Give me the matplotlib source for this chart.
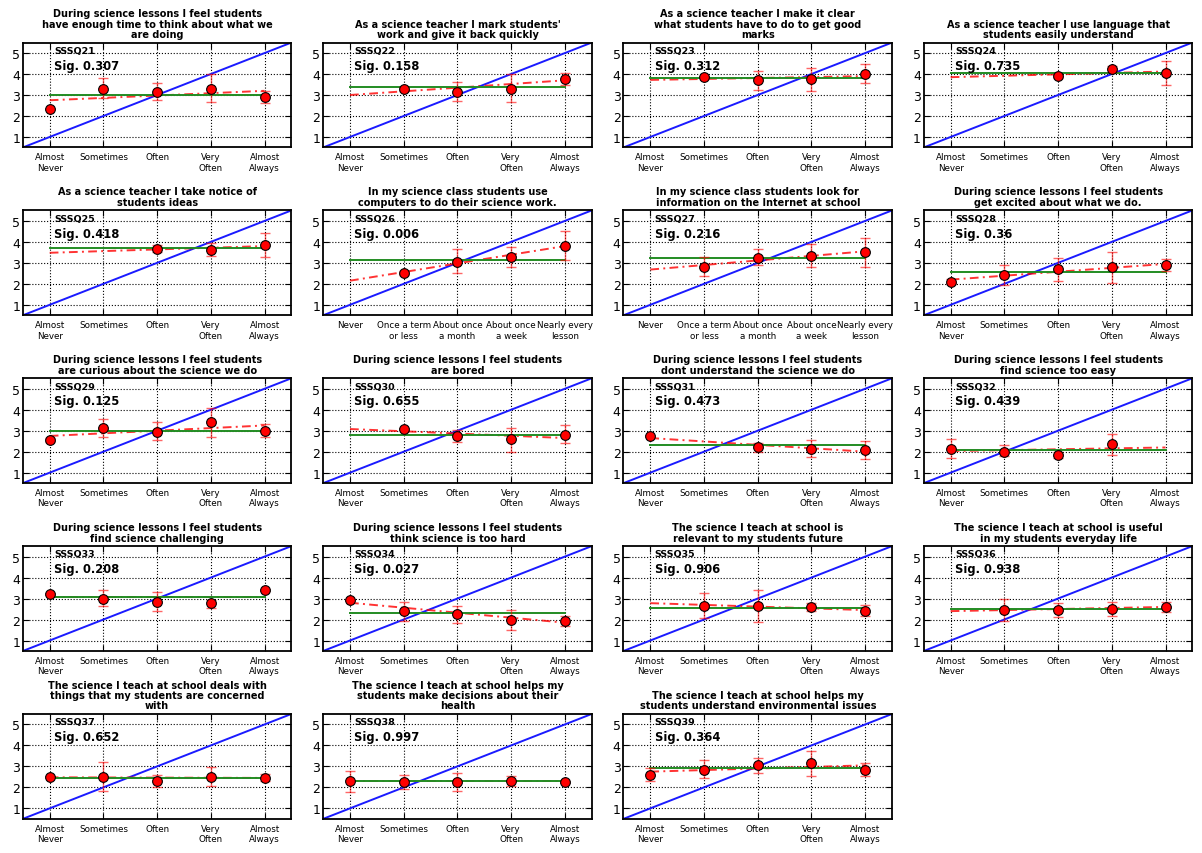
import matplotlib.pyplot as plt

codes = ["SSSQ21", "SSSQ22", "SSSQ23", "SSSQ24", "SSSQ25", "SSSQ26", "SSSQ27",
         "SSSQ28", "SSSQ29", "SSSQ30", "SSSQ31", "SSSQ32", "SSSQ33", "SSSQ34",
         "SSSQ35", "SSSQ36", "SSSQ37", "SSSQ38", "SSSQ39"]

titles = [
    "During science lessons I feel students\nhave enough time to think about what we\nare doing",
    "As a science teacher I mark students'\nwork and give it back quickly",
    "As a science teacher I make it clear\nwhat students have to do to get good\nmarks",
    "As a science teacher I use language that\nstudents easily understand",
    "As a science teacher I take notice of\nstudents ideas",
    "In my science class students use\ncomputers to do their science work.",
    "In my science class students look for\ninformation on the Internet at school",
    "During science lessons I feel students\nget excited about what we do.",
    "During science lessons I feel students\nare curious about the science we do",
    "During science lessons I feel students\nare bored",
    "During science lessons I feel students\ndont understand the science we do",
    "During science lessons I feel students\nfind science too easy",
    "During science lessons I feel students\nfind science challenging",
    "During science lessons I feel students\nthink science is too hard",
    "The science I teach at school is\nrelevant to my students future",
    "The science I teach at school is useful\nin my students everyday life",
    "The science I teach at school deals with\nthings that my students are concerned\nwith",
    "The science I teach at school helps my\nstudents make decisions about their\nhealth",
    "The science I teach at school helps my\nstudents understand environmental issues",
]

sig = [0.307, 0.158, 0.312, 0.735, 0.418, 0.006, 0.216, 0.36, 0.125, 0.655,
       0.473, 0.439, 0.208, 0.027, 0.906, 0.938, 0.652, 0.997, 0.364]

# which questions use the "how often" scale instead of the frequency scale
uses_time_scale = [False, False, False, False, False, True, True, False, False, False,
                   False, False, False, False, False, False, False, False, False]

freq_labels = ["Almost\nNever", "Sometimes", "Often", "Very\nOften", "Almost\nAlways"]
time_labels = ["Never", "Once a term\nor less", "About once\na month",
               "About once\na week", "Nearly every\nlesson"]

# group means per answer category (None = no responses)
means = [
    [2.35, 3.30, 3.15, 3.30, 2.90],
    [None, 3.30, 3.15, 3.30, 3.75],
    [None, 3.85, 3.70, 3.75, 4.00],
    [None, None, 3.90, 4.25, 4.05],
    [None, None, 3.65, 3.60, 3.85],
    [None, 2.50, 3.05, 3.30, 3.80],
    [None, 2.80, 3.25, 3.35, 3.50],
    [2.10, 2.40, 2.70, 2.80, 2.90],
    [2.55, 3.15, 2.95, 3.40, 3.00],
    [None, 3.10, 2.75, 2.60, 2.80],
    [2.75, None, 2.20, 2.15, 2.10],
    [2.15, 2.00, 1.85, 2.35, None],
    [3.20, 3.00, 2.85, 2.80, 3.40],
    [2.95, 2.40, 2.25, 2.00, 1.95],
    [None, 2.65, 2.65, 2.60, 2.40],
    [None, 2.45, 2.45, 2.50, 2.60],
    [2.50, 2.50, 2.30, 2.50, 2.45],
    [2.30, 2.25, 2.25, 2.30, 2.25],
    [2.60, 2.85, 3.05, 3.15, 2.85],
]

# lower / upper ends of the error bars
err_low = [
    [2.35, 2.85, 2.75, 2.65, 2.60],
    [None, 3.20, 2.70, 2.65, 3.50],
    [None, 3.80, 3.25, 3.20, 3.55],
    [None, None, 3.80, 4.10, 3.50],
    [None, None, 3.50, 3.35, 3.30],
    [None, 2.40, 2.50, 2.80, 3.15],
    [None, 2.35, 2.90, 2.80, 2.80],
    [2.00, 1.95, 2.15, 2.05, 2.60],
    [2.45, 2.70, 2.55, 2.70, 2.70],
    [None, 3.05, 2.45, 2.00, 2.40],
    [2.70, None, 2.00, 1.75, 1.65],
    [1.70, 1.80, 1.70, 1.85, None],
    [3.15, 2.65, 2.40, 2.55, 3.35],
    [2.90, 1.95, 1.85, 1.50, 1.70],
    [None, 2.05, 1.90, 2.40, 2.15],
    [None, 1.95, 2.10, 2.15, 2.35],
    [2.45, 1.85, 2.00, 2.05, 2.30],
    [1.80, 1.90, 1.85, 2.05, 2.20],
    [2.30, 2.45, 2.70, 2.55, 2.55],
]
err_high = [
    [2.35, 3.80, 3.55, 4.00, 3.20],
    [None, 3.40, 3.60, 4.00, 4.05],
    [None, 3.90, 4.15, 4.30, 4.50],
    [None, None, 4.00, 4.40, 4.60],
    [None, None, 3.85, 3.95, 4.40],
    [None, 2.60, 3.65, 3.75, 4.50],
    [None, 3.30, 3.65, 3.90, 4.20],
    [2.25, 2.90, 3.25, 3.50, 3.20],
    [2.65, 3.55, 3.40, 4.10, 3.30],
    [None, 3.15, 3.05, 3.15, 3.25],
    [2.80, None, 2.40, 2.55, 2.50],
    [2.60, 2.30, 2.00, 2.85, None],
    [3.25, 3.40, 3.30, 2.95, 3.45],
    [3.00, 2.85, 2.65, 2.45, 2.15],
    [None, 3.25, 3.40, 2.80, 2.70],
    [None, 3.00, 2.80, 2.85, 2.85],
    [2.55, 3.20, 2.60, 2.95, 2.65],
    [2.80, 2.60, 2.70, 2.55, 2.30],
    [2.90, 3.30, 3.40, 3.75, 3.15],
]

overall_mean = [3.00, 3.38, 3.83, 4.05, 3.73, 3.15, 3.22, 2.58, 3.00, 2.80,
                2.30, 2.10, 3.05, 2.30, 2.57, 2.52, 2.45, 2.28, 2.90]

# linear trend value at the first and last category
trend_start = [2.75, 3.00, 3.72, 3.85, 3.48, 2.15, 2.68, 2.20, 2.75, 3.08,
               2.65, 2.03, 3.05, 2.80, 2.78, 2.40, 2.48, 2.28, 2.75]
trend_end = [3.20, 3.70, 3.90, 4.12, 3.80, 3.80, 3.55, 2.95, 3.25, 2.65,
             2.00, 2.20, 3.05, 1.85, 2.45, 2.60, 2.45, 2.28, 3.05]

cats = [1, 2, 3, 4, 5]

fig, axes = plt.subplots(5, 4, figsize=(12.02, 8.54), dpi=100)
plt.subplots_adjust(left=0.019, right=0.992, top=0.949, bottom=0.040,
                    wspace=0.118, hspace=0.60)

for i, ax in enumerate(axes.flat):
    if i >= len(codes):
        ax.axis('off')
        continue

    ax.plot([0.5, 5.5], [0.5, 5.5], color='#1a1aff', lw=1.4, zorder=2)
    ax.plot([1, 5], [trend_start[i], trend_end[i]], color='r', lw=1.4,
            dashes=(4.5, 2.2, 1, 2.2), alpha=0.8, zorder=3)
    ax.plot([1, 5], [overall_mean[i], overall_mean[i]], color='#238c23',
            lw=1.4, zorder=3)

    xs = [c for c, m in zip(cats, means[i]) if m is not None]
    ys = [m for m in means[i] if m is not None]
    lo = [m - l for m, l in zip(means[i], err_low[i]) if m is not None]
    hi = [h - m for m, h in zip(means[i], err_high[i]) if m is not None]
    ax.errorbar(xs, ys, yerr=[lo, hi], fmt='none', ecolor='r', elinewidth=1,
                capsize=3.6, alpha=0.6, zorder=4)
    ax.plot(xs, ys, 'o', color='r', mec='k', mew=0.8, ms=7, zorder=5)

    ax.text(1.08, 5.13, codes[i], fontsize=6.8, fontweight='bold', va='center')
    ax.text(1.08, 4.42, "Sig. %s" % sig[i], fontsize=8.3, fontweight='bold',
            va='center')

    ax.set_xlim(0.5, 5.5)
    ax.set_ylim(0.5, 5.5)
    ax.set_xticks(cats)
    ax.set_yticks([1, 2, 3, 4, 5])
    ax.set_xticklabels(time_labels if uses_time_scale[i] else freq_labels,
                       fontsize=6.3)
    ax.tick_params(axis='y', labelsize=9, pad=2)
    ax.tick_params(direction='in', length=4, top=True, right=True)
    ax.grid(True, ls=':', color='k', lw=0.8)
    for sp in ax.spines.values():
        sp.set_linewidth(1.3)
    ax.set_title(titles[i], fontsize=7, fontweight='bold', linespacing=1.05, pad=4)

plt.savefig('out.png', dpi=100)
